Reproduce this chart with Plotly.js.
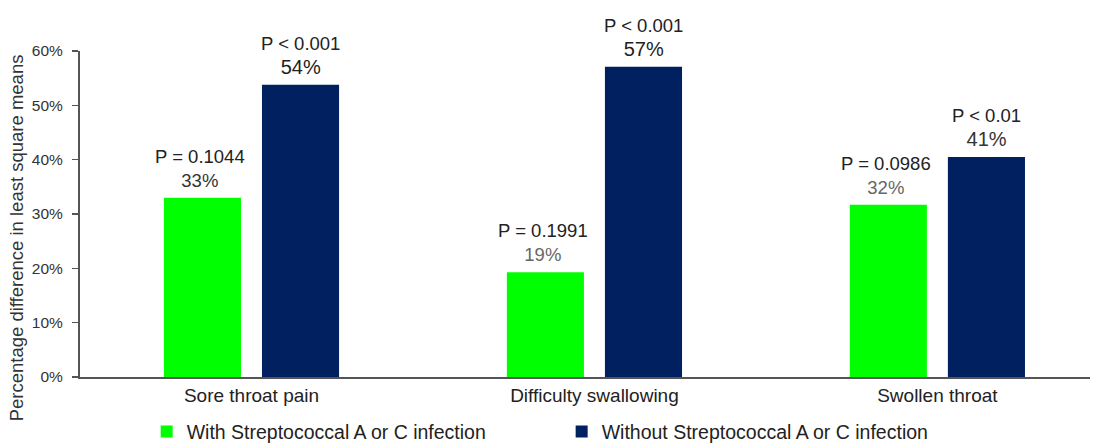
<!DOCTYPE html>
<html>
<head>
<meta charset="utf-8">
<script src="https://cdn.plot.ly/plotly-3.0.1.min.js"></script>
<style>html,body{margin:0;padding:0;background:#fff;}#chart{width:1095px;height:446px;}</style>
</head>
<body>
<div id="chart"></div>
<script>
var categories = ["Sore throat pain", "Difficulty swallowing", "Swollen throat"];
var seriesNames = ["With Streptococcal A or C infection", "Without Streptococcal A or C infection"];
var withStrep = [33.0, 19.3, 31.7];
var withoutStrep = [53.8, 57.1, 40.5];
var withPLabels = ["P = 0.1044", "P = 0.1991", "P = 0.0986"];
var withoutPLabels = ["P < 0.001", "P < 0.001", "P < 0.01"];
var withPctLabels = ["33%", "19%", "32%"];
var withoutPctLabels = ["54%", "57%", "41%"];
var yTickVals = [0, 10, 20, 30, 40, 50, 60];
var yTickText = ["0%", "10%", "20%", "30%", "40%", "50%", "60%"];

var colors = ["#00FF00", "#002060"];
var withPctColors = ["#333333", "#666666", "#666666"];
var withoutPctColors = ["#222222", "#222222", "#333333"];

var traces = [
  {type: "bar", name: seriesNames[0], x: categories, y: withStrep,
   marker: {color: colors[0], line: {width: 0}}, hoverinfo: "skip"},
  {type: "bar", name: seriesNames[1], x: categories, y: withoutStrep,
   marker: {color: colors[1], line: {width: 0}}, hoverinfo: "skip"}
];

var annotations = [];
function addLabels(vals, pLabels, pctLabels, pctColors, shift, pctSize) {
  for (var i = 0; i < categories.length; i++) {
    annotations.push({
      x: categories[i], y: vals[i], xref: "x", yref: "y",
      xshift: shift, yshift: 5, yanchor: "bottom", xanchor: "center",
      showarrow: false, align: "center",
      text: pLabels[i] + "<br><span style='font-size:" + pctSize + "px;color:" + pctColors[i] + "'>" + pctLabels[i] + "</span>",
      font: {family: "Liberation Sans, Arial, sans-serif", size: 18.5, color: "#222222"}
    });
  }
}
addLabels(withStrep, withPLabels, withPctLabels, withPctColors, -51, 18.5);
addLabels(withoutStrep, withoutPLabels, withoutPctLabels, withoutPctColors, 49, 20);

annotations.push({
  xref: "paper", yref: "paper", x: -0.063, y: 0.5 - (238 - 214) / 326,
  xanchor: "center", yanchor: "middle", textangle: -90, showarrow: false,
  text: "Percentage difference in least square means",
  font: {family: "Liberation Sans, Arial, sans-serif", size: 18.5, color: "#333333"}
});

var layout = {
  width: 1095, height: 446,
  margin: {l: 80, r: 5, t: 51, b: 69, pad: 0, autoexpand: false},
  paper_bgcolor: "#ffffff", plot_bgcolor: "#ffffff",
  barmode: "group", bargap: 0.428, bargroupgap: 0.214,
  font: {family: "Liberation Sans, Arial, sans-serif", color: "#333333"},
  showlegend: true,
  legend: {orientation: "h", x: 0.066, xanchor: "left", y: -0.168, yanchor: "middle",
           entrywidth: 370, entrywidthmode: "pixels",
           font: {size: 19.5, color: "#222222"}, bgcolor: "rgba(0,0,0,0)", traceorder: "normal"},
  xaxis: {type: "category", range: [-0.5, 2.445], showgrid: false, zeroline: false,
          showline: true, linecolor: "#555555", linewidth: 2, ticks: "",
          tickfont: {size: 19, color: "#222222"}, fixedrange: true},
  yaxis: {range: [0, 60], tickmode: "array", tickvals: yTickVals, ticktext: yTickText,
          showgrid: false, zeroline: false,
          showline: true, linecolor: "#555555", linewidth: 2, ticks: "outside", ticklen: 6,
          tickcolor: "#555555", tickwidth: 1.5, ticklabelstandoff: 6,
          tickfont: {size: 15.5, color: "#333333"}, fixedrange: true},
  annotations: annotations
};

Plotly.newPlot("chart", traces, layout, {displayModeBar: false, staticPlot: true});
</script>
</body>
</html>
